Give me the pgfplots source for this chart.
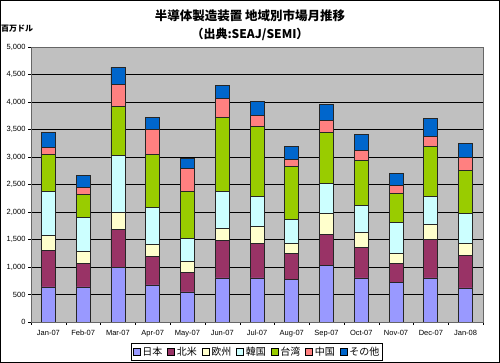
\documentclass[border=0pt]{standalone}
\usepackage{fontspec}
\setmainfont{Liberation Sans}
\newfontfamily\jp{Noto Sans CJK JP}
\usepackage{pgfplots}
\pgfplotsset{compat=1.18}
\usepackage{pgfplotstable}
\definecolor{cJP}{HTML}{9999FF}
\definecolor{cNA}{HTML}{993366}
\definecolor{cEU}{HTML}{FFFFCC}
\definecolor{cKR}{HTML}{CCFFFF}
\definecolor{cTW}{HTML}{99CC00}
\definecolor{cCN}{HTML}{FF8080}
\definecolor{cOT}{HTML}{0066CC}
\definecolor{bgGray}{HTML}{C0C0C0}
\pgfplotstableread{
x jp na eu kr tw cn ot
0 637 656 273 801 674 128 279
1 637 431 213 619 419 133 213
2 989 698 310 1026 898 395 315
3 674 516 218 680 953 455 225
4 546 358 201 406 856 419 188
5 801 686 207 673 1354 346 231
6 801 625 304 546 1275 200 255
7 771 473 176 450 959 121 237
8 1026 564 389 534 941 206 298
9 801 547 273 504 807 182 303
10 722 346 182 553 534 140 224
11 801 698 273 504 917 188 322
12 619 589 218 553 777 237 254
}\data
\begin{document}
\begin{tikzpicture}[x=1pt,y=1pt]
\draw[line width=1pt] (0.5,0.5) rectangle (499.5,362.5);
\begin{axis}[
  at={(31pt,41pt)}, anchor=south west, scale only axis,
  width=452pt, height=275pt,
  ybar stacked, bar width=14pt,
  xmin=-0.5, xmax=12.5, ymin=0, ymax=5000,
  ytick={0,500,...,5000},
  xtick={0,...,12},
  xticklabels={Jan-07,Feb-07,Mar-07,Apr-07,May-07,Jun-07,Jul-07,Aug-07,Sep-07,Oct-07,Nov-07,Dec-07,Jan-08},
  minor xtick={-0.5,0.5,...,12.5},
  major x tick style={draw=none},
  minor tick length=3pt, major tick length=3pt,
  tick align=outside, xtick pos=bottom, ytick pos=left,
  ymajorgrids, grid style={black, line width=0.8pt},
  axis background/.style={fill=bgGray},
  axis line style={gray!80!black, line width=0.8pt},
  tick style={black},
  tick label style={font=\fontsize{7.5}{8.5}\selectfont},
  xticklabel style={yshift=-2pt},
  yticklabel style={/pgf/number format/1000 sep={,}, /pgf/number format/assume math mode=true, xshift=1pt},
  scaled y ticks=false,
  legend columns=7,
  legend style={at={(0.5,-0.109)}, anchor=center, draw=black, line width=0.8pt,
    font=\jp\fontsize{10}{11}\selectfont, inner sep=1.5pt,
    /tikz/every even column/.append style={column sep=3pt}},
  legend image code/.code={\draw[#1,draw=black,line width=0.5pt] (0pt,-3.5pt) rectangle (7pt,3.5pt);},
  every axis plot/.append style={draw=black!85, line width=0.8pt},
]
\addplot[fill=cJP] table[x=x,y=jp]{\data};
\addplot[fill=cNA] table[x=x,y=na]{\data};
\addplot[fill=cEU] table[x=x,y=eu]{\data};
\addplot[fill=cKR] table[x=x,y=kr]{\data};
\addplot[fill=cTW] table[x=x,y=tw]{\data};
\addplot[fill=cCN] table[x=x,y=cn]{\data};
\addplot[fill=cOT] table[x=x,y=ot]{\data};
\legend{日本,北米,欧州,韓国,台湾,中国,その他}
\end{axis}
\node[font=\jp\bfseries\fontsize{12.5}{14}\selectfont] at (250,347) {半導体製造装置 地域別市場月推移};
\node[font=\jp\bfseries\fontsize{12}{14}\selectfont] at (250,329) {（出典:SEAJ/SEMI）};
\node[anchor=west, font=\jp\bfseries\fontsize{8}{9}\selectfont, inner sep=0pt] at (1,334) {百万ドル};
\end{tikzpicture}
\end{document}
